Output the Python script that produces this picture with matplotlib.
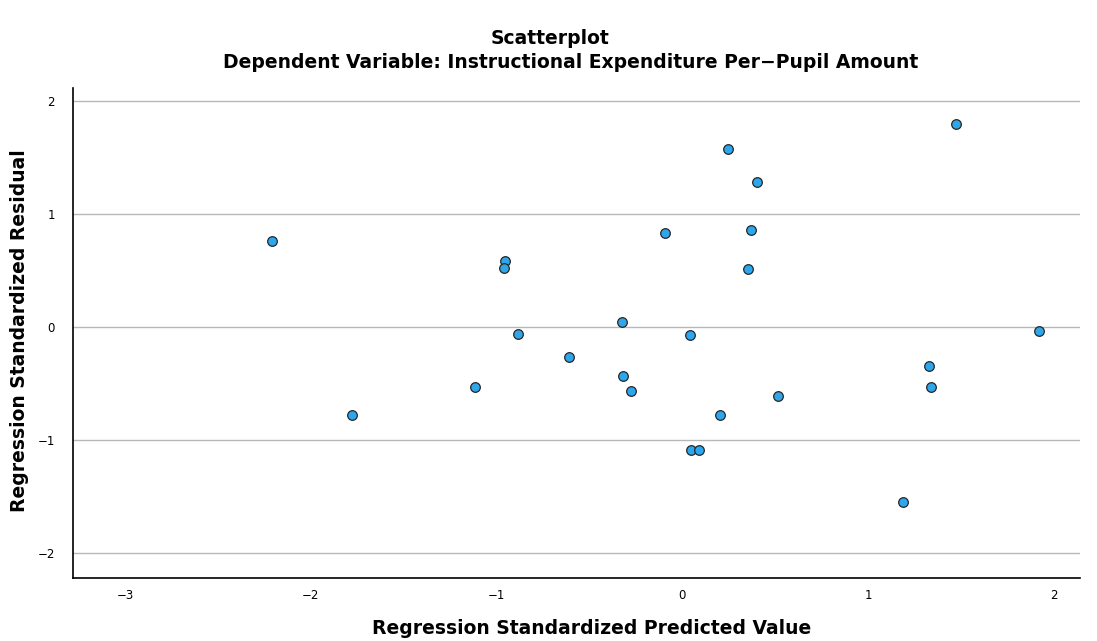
import numpy as np
import matplotlib.pyplot as plt

# standardized predicted values (x) and standardized residuals (y)
pred = [-2.207, -1.776, -1.117, -0.955, -0.961, -0.885, -0.610, -0.324, -0.318,
        -0.275, -0.092, 0.043, 0.049, 0.092, 0.200, 0.248, 0.351, 0.367, 0.399,
        0.513, 1.187, 1.328, 1.338, 1.473, 1.921]
resid = [0.762, -0.780, -0.532, 0.585, 0.523, -0.062, -0.266, 0.044, -0.434,
         -0.567, 0.833, -0.071, -1.090, -1.090, -0.780, 1.578, 0.514, 0.860, 1.285,
         -0.612, -1.551, -0.346, -0.532, 1.800, -0.035]

xticks = [-3, -2, -1, 0, 1, 2]
yticks = [-2, -1, 0, 1, 2]

fig = plt.figure(figsize=(10.97, 6.41), dpi=100)
ax = fig.add_axes([0.0665, 0.0983, 0.918, 0.7645])

ax.scatter(pred, resid, s=48, c='#2ea6ec', edgecolors='#262626', linewidths=0.9, zorder=3)

ax.set_xlim(-3.28, 2.14)
ax.set_ylim(-2.22, 2.12)
ax.set_xticks(xticks)
ax.set_yticks(yticks)
ax.set_xticklabels([str(t).replace('-', '\u2212') for t in xticks])
ax.set_yticklabels([str(t).replace('-', '\u2212') for t in yticks])
ax.tick_params(length=0, labelsize=8.5, pad=8)
ax.tick_params(axis='y', pad=13)
ax.yaxis.grid(True, color='#b8b8b8', linewidth=1)
ax.set_axisbelow(True)
for s in ['top', 'right']:
    ax.spines[s].set_visible(False)
for s in ['left', 'bottom']:
    ax.spines[s].set_linewidth(1.2)

H = 641
W = 1097
fig.text(592 / W, 1 - 628 / H, 'Regression Standardized Predicted Value',
         ha='center', va='center', fontsize=13.5, fontweight='bold')
fig.text(20 / W, 1 - 331 / H, 'Regression Standardized Residual', rotation=90,
         ha='center', va='center', fontsize=13.5, fontweight='bold')

fig.text(550 / W, 1 - 39 / H, 'Scatterplot', ha='center', va='center',
         fontsize=13.5, fontweight='bold')
fig.text(571 / W, 1 - 63 / H, 'Dependent Variable: Instructional Expenditure Per\u2212Pupil Amount',
         ha='center', va='center', fontsize=13.5, fontweight='bold')

fig.savefig('out.png', dpi=100)
